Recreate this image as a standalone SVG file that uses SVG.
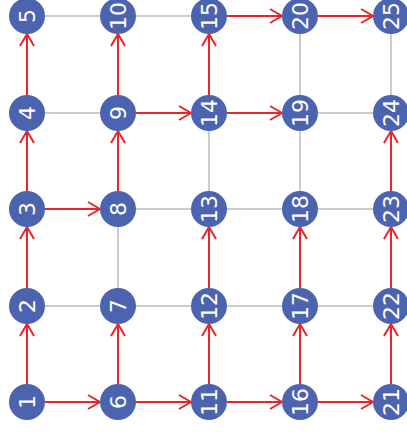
<svg xmlns="http://www.w3.org/2000/svg" width="407" height="435" viewBox="0 0 407 435">
<style>
.g{stroke:#bbbbbb;stroke-width:1.5;fill:none}
.r{stroke:#e8262a;stroke-width:2;fill:none;marker-end:url(#ah)}
.n circle{fill:#4c64b0}
.n text{fill:#ffffff;font-family:"DejaVu Sans",sans-serif;font-size:22px;text-anchor:middle;dominant-baseline:central}
</style>
<defs>
<marker id="ah" markerUnits="userSpaceOnUse" viewBox="-14 -9 16 18" refX="0" refY="0" markerWidth="16" markerHeight="18" orient="auto" overflow="visible">
<path d="M-12,-7 L0,0 L-12,7" fill="none" stroke="#e8262a" stroke-width="2"/>
</marker>
</defs>
<rect width="407" height="435" fill="#ffffff"/>
<g id="connectors">
<line class="g" x1="27" y1="306" x2="118" y2="306"/>
<line class="g" x1="27" y1="113" x2="118" y2="113"/>
<line class="g" x1="27" y1="16" x2="118" y2="16"/>
<line class="g" x1="118" y1="306" x2="209" y2="306"/>
<line class="g" x1="118" y1="209" x2="209" y2="209"/>
<line class="g" x1="118" y1="16" x2="209" y2="16"/>
<line class="g" x1="209" y1="306" x2="300" y2="306"/>
<line class="g" x1="209" y1="209" x2="300" y2="209"/>
<line class="g" x1="300" y1="306" x2="391" y2="306"/>
<line class="g" x1="300" y1="209" x2="391" y2="209"/>
<line class="g" x1="300" y1="113" x2="391" y2="113"/>
<line class="g" x1="118" y1="306" x2="118" y2="209"/>
<line class="g" x1="209" y1="209" x2="209" y2="113"/>
<line class="g" x1="300" y1="209" x2="300" y2="113"/>
<line class="g" x1="300" y1="113" x2="300" y2="16"/>
<line class="g" x1="391" y1="113" x2="391" y2="16"/>
<line class="r" x1="27" y1="384" x2="27" y2="324"/>
<line class="r" x1="27" y1="288" x2="27" y2="227"/>
<line class="r" x1="27" y1="191" x2="27" y2="131"/>
<line class="r" x1="27" y1="95" x2="27" y2="34"/>
<line class="r" x1="45" y1="402" x2="100" y2="402"/>
<line class="r" x1="45" y1="209" x2="100" y2="209"/>
<line class="r" x1="118" y1="384" x2="118" y2="324"/>
<line class="r" x1="118" y1="191" x2="118" y2="131"/>
<line class="r" x1="118" y1="95" x2="118" y2="34"/>
<line class="r" x1="136" y1="402" x2="191" y2="402"/>
<line class="r" x1="136" y1="113" x2="191" y2="113"/>
<line class="r" x1="209" y1="384" x2="209" y2="324"/>
<line class="r" x1="209" y1="288" x2="209" y2="227"/>
<line class="r" x1="209" y1="95" x2="209" y2="34"/>
<line class="r" x1="227" y1="402" x2="282" y2="402"/>
<line class="r" x1="227" y1="113" x2="282" y2="113"/>
<line class="r" x1="227" y1="16" x2="282" y2="16"/>
<line class="r" x1="300" y1="384" x2="300" y2="324"/>
<line class="r" x1="300" y1="288" x2="300" y2="227"/>
<line class="r" x1="318" y1="402" x2="373" y2="402"/>
<line class="r" x1="318" y1="16" x2="373" y2="16"/>
<line class="r" x1="391" y1="384" x2="391" y2="324"/>
<line class="r" x1="391" y1="288" x2="391" y2="227"/>
<line class="r" x1="391" y1="191" x2="391" y2="131"/>
</g>
<g id="n1" class="n"><circle cx="27" cy="402" r="18"/><text transform="translate(27 402) rotate(-90)">1</text></g>
<g id="n2" class="n"><circle cx="27" cy="306" r="18"/><text transform="translate(27 306) rotate(-90)">2</text></g>
<g id="n3" class="n"><circle cx="27" cy="209" r="18"/><text transform="translate(27 209) rotate(-90)">3</text></g>
<g id="n4" class="n"><circle cx="27" cy="113" r="18"/><text transform="translate(27 113) rotate(-90)">4</text></g>
<g id="n5" class="n"><circle cx="27" cy="16" r="18"/><text transform="translate(27 16) rotate(-90)">5</text></g>
<g id="n6" class="n"><circle cx="118" cy="402" r="18"/><text transform="translate(118 402) rotate(-90)">6</text></g>
<g id="n7" class="n"><circle cx="118" cy="306" r="18"/><text transform="translate(118 306) rotate(-90)">7</text></g>
<g id="n8" class="n"><circle cx="118" cy="209" r="18"/><text transform="translate(118 209) rotate(-90)">8</text></g>
<g id="n9" class="n"><circle cx="118" cy="113" r="18"/><text transform="translate(118 113) rotate(-90)">9</text></g>
<g id="n10" class="n"><circle cx="118" cy="16" r="18"/><text transform="translate(118 16) rotate(-90)">10</text></g>
<g id="n11" class="n"><circle cx="209" cy="402" r="18"/><text transform="translate(209 402) rotate(-90)">11</text></g>
<g id="n12" class="n"><circle cx="209" cy="306" r="18"/><text transform="translate(209 306) rotate(-90)">12</text></g>
<g id="n13" class="n"><circle cx="209" cy="209" r="18"/><text transform="translate(209 209) rotate(-90)">13</text></g>
<g id="n14" class="n"><circle cx="209" cy="113" r="18"/><text transform="translate(209 113) rotate(-90)">14</text></g>
<g id="n15" class="n"><circle cx="209" cy="16" r="18"/><text transform="translate(209 16) rotate(-90)">15</text></g>
<g id="n16" class="n"><circle cx="300" cy="402" r="18"/><text transform="translate(300 402) rotate(-90)">16</text></g>
<g id="n17" class="n"><circle cx="300" cy="306" r="18"/><text transform="translate(300 306) rotate(-90)">17</text></g>
<g id="n18" class="n"><circle cx="300" cy="209" r="18"/><text transform="translate(300 209) rotate(-90)">18</text></g>
<g id="n19" class="n"><circle cx="300" cy="113" r="18"/><text transform="translate(300 113) rotate(-90)">19</text></g>
<g id="n20" class="n"><circle cx="300" cy="16" r="18"/><text transform="translate(300 16) rotate(-90)">20</text></g>
<g id="n21" class="n"><circle cx="391" cy="402" r="18"/><text transform="translate(391 402) rotate(-90)">21</text></g>
<g id="n22" class="n"><circle cx="391" cy="306" r="18"/><text transform="translate(391 306) rotate(-90)">22</text></g>
<g id="n23" class="n"><circle cx="391" cy="209" r="18"/><text transform="translate(391 209) rotate(-90)">23</text></g>
<g id="n24" class="n"><circle cx="391" cy="113" r="18"/><text transform="translate(391 113) rotate(-90)">24</text></g>
<g id="n25" class="n"><circle cx="391" cy="16" r="18"/><text transform="translate(391 16) rotate(-90)">25</text></g>
</svg>
